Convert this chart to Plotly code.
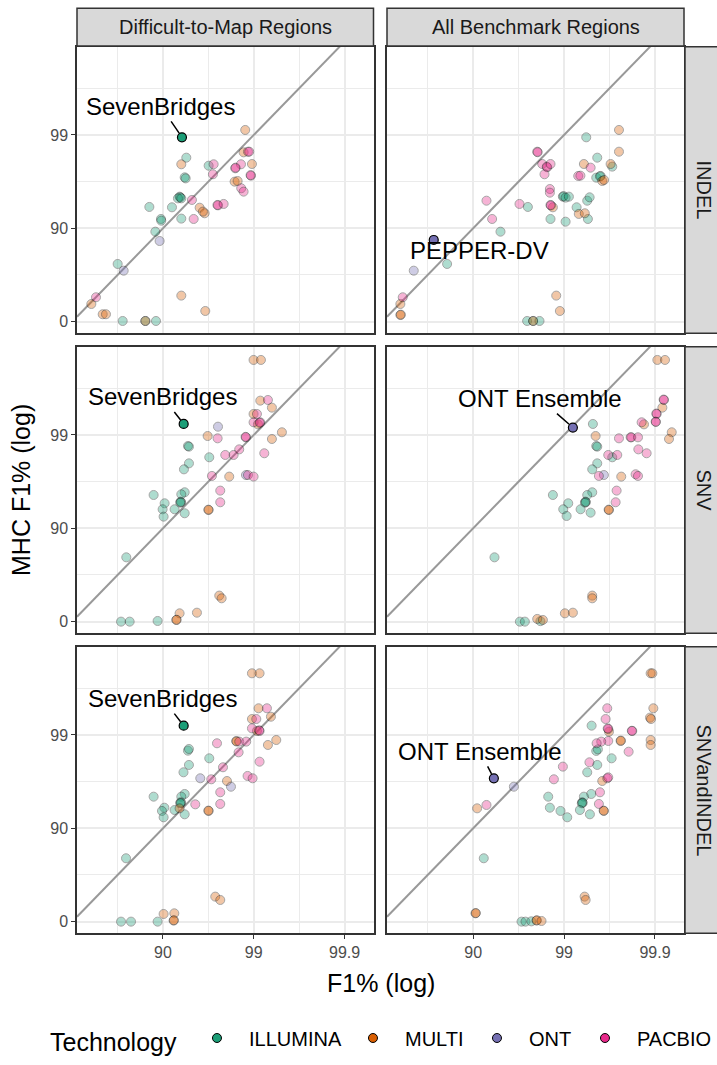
import plotly.graph_objects as go

FONT = "Liberation Sans, Arial, sans-serif"
W, H = 717, 1065

# ---------------- data (values on -log10(1 - F1) scale) ----------------
tech_names = ["ILLUMINA", "MULTI", "ONT", "PACBIO"]
tech_colors = ["#1B9E77", "#D95F02", "#7570B3", "#E7298A"]
tech_codes = {"I": "ILLUMINA", "M": "MULTI", "O": "ONT", "P": "PACBIO"}

region_labels = ["Difficult-to-Map Regions", "All Benchmark Regions"]
variant_labels = ["INDEL", "SNV", "SNVandINDEL"]

x_tick_vals = [1, 2, 3]
y_tick_vals = [0, 1, 2]
minor_tick_vals = [0.5, 1.5, 2.5]

# INDEL / Difficult-to-Map
indel_difficult_x = [1.906, 1.257, 1.202, 1.239, 1.250, 1.503, 1.558, 1.550, 1.888, 1.936, 1.950, 1.980, 1.859, 1.796, 1.800, 1.969, 1.965, 1.789, 1.822, 1.862, 1.888, 1.183, 1.190, 1.165, 1.202, 1.319, 1.404, 1.459, 1.440, 1.606, 1.600, 1.668, 0.850, 1.099, 1.202, 1.338, 0.978, 0.981, 0.916, 0.963, 0.501, 0.567, 0.262, 0.211, 0.336, 0.372, 0.556, 0.806, 0.806, 0.923, 1.202, 1.466]
indel_difficult_y = [2.054, 1.757, 1.686, 1.546, 1.535, 1.671, 1.686, 1.579, 1.814, 1.821, 1.821, 1.689, 1.686, 1.643, 1.650, 1.564, 1.570, 1.500, 1.507, 1.429, 1.393, 1.339, 1.332, 1.321, 1.321, 1.304, 1.221, 1.161, 1.179, 1.246, 1.250, 1.261, 1.229, 1.225, 1.104, 1.100, 1.100, 1.082, 0.964, 0.864, 0.618, 0.546, 0.261, 0.189, 0.079, 0.079, 0.007, 0.007, 0.007, 0.007, 0.279, 0.114]
indel_difficult_tech = list("MIMIIIPPMPPMPPPPPMMPPIIIIPMMMPPPIIIPIIIOIOPMMMIIMIMM")

# INDEL / All Benchmark
indel_all_x = [0.347, 0.714, 0.226, 0.200, 0.200, 0.205, 1.301, 1.209, 1.147, 1.510, 1.602, 1.705, 1.710, 1.760, 1.815, 1.810, 1.851, 1.785, 2.244, 2.604, 2.604, 2.218, 2.292, 2.365, 2.512, 2.530, 2.156, 2.180, 2.354, 2.402, 2.395, 2.420, 2.440, 1.844, 1.844, 1.987, 1.995, 2.017, 2.053, 1.851, 1.855, 1.877, 2.138, 2.255, 2.281, 2.162, 2.228, 2.262, 1.851, 2.017, 1.914, 1.954, 1.594, 1.660, 1.660, 1.730]
indel_all_y = [0.546, 0.618, 0.261, 0.189, 0.071, 0.075, 0.964, 1.100, 1.296, 1.261, 1.229, 1.821, 1.815, 1.689, 1.654, 1.660, 1.689, 1.579, 1.975, 2.054, 1.821, 1.689, 1.650, 1.757, 1.689, 1.661, 1.561, 1.564, 1.543, 1.561, 1.556, 1.507, 1.518, 1.421, 1.382, 1.339, 1.345, 1.329, 1.339, 1.250, 1.245, 1.225, 1.225, 1.296, 1.332, 1.154, 1.161, 1.100, 1.100, 1.071, 0.279, 0.114, 0.007, 0.007, 0.007, 0.007]
indel_all_tech = list("OIPMMMIPPPIPPPPPPPIMMMPIMIPPIIIMMPPIIIIPPMIIIMMIIIMMIIMI")

# SNV / Difficult-to-Map
snv_difficult_x = [1.998, 2.079, 2.072, 2.156, 2.200, 1.998, 2.035, 1.998, 2.046, 2.072, 2.065, 1.606, 1.492, 1.602, 1.914, 1.910, 2.310, 2.200, 2.116, 1.275, 1.286, 1.510, 1.286, 1.231, 1.686, 1.778, 1.840, 1.539, 1.730, 1.914, 1.936, 1.998, 1.631, 1.631, 1.503, 1.500, 0.897, 1.239, 1.202, 1.194, 1.200, 1.190, 1.018, 0.996, 1.007, 1.128, 1.239, 0.596, 1.620, 1.646, 1.183, 1.374, 1.147, 1.150, 0.538, 0.633, 0.941]
snv_difficult_y = [2.804, 2.804, 2.368, 2.375, 2.293, 2.225, 2.225, 2.136, 2.114, 2.136, 2.130, 2.089, 1.989, 1.964, 1.975, 1.980, 2.029, 1.957, 1.804, 1.882, 1.875, 1.761, 1.696, 1.632, 1.786, 1.786, 1.846, 1.561, 1.554, 1.571, 1.571, 1.554, 1.404, 1.279, 1.196, 1.200, 1.357, 1.386, 1.364, 1.286, 1.280, 1.275, 1.268, 1.204, 1.125, 1.204, 1.161, 0.689, 0.279, 0.250, 0.089, 0.096, 0.018, 0.020, 0.000, 0.000, 0.007]
snv_difficult_tech = list("MMMPMMPPMPPOMPPPMMPIIIIIPPPPMOPPPPMMIIIIIIIIIIIIMMMMMMIII")

# SNV / All Benchmark
snv_all_x = [3.026, 3.110, 3.099, 3.095, 3.081, 3.018, 3.015, 3.007, 3.010, 2.853, 2.879, 3.184, 3.154, 2.317, 2.347, 2.604, 2.732, 2.740, 2.813, 2.354, 2.365, 2.817, 2.908, 2.486, 2.530, 2.585, 2.365, 2.310, 2.383, 2.438, 2.629, 2.787, 2.813, 2.578, 2.567, 2.494, 2.490, 1.877, 2.310, 2.255, 2.235, 2.240, 2.230, 2.046, 1.991, 2.028, 2.182, 2.292, 1.235, 2.310, 2.310, 2.009, 2.097, 1.705, 1.767, 1.514, 1.569, 1.740]
snv_all_y = [2.804, 2.804, 2.375, 2.380, 2.293, 2.225, 2.230, 2.143, 2.140, 2.136, 2.114, 2.029, 1.957, 2.118, 1.989, 1.964, 1.975, 1.975, 1.975, 1.882, 1.875, 1.846, 1.804, 1.786, 1.761, 1.786, 1.696, 1.632, 1.561, 1.571, 1.554, 1.579, 1.561, 1.404, 1.279, 1.196, 1.200, 1.357, 1.386, 1.357, 1.286, 1.280, 1.275, 1.268, 1.204, 1.132, 1.204, 1.168, 0.689, 0.279, 0.250, 0.089, 0.096, 0.029, 0.018, 0.000, 0.000, 0.005]
snv_all_tech = list("MMPPMPPPPPMMMIMPPPPIIPPPIPIIPOMPPPPMMIIIIIIIIIIIIMMMMMMIII")

# SNVandINDEL / Difficult-to-Map
both_difficult_x = [1.980, 2.064, 2.053, 2.145, 2.189, 1.980, 2.028, 1.980, 2.035, 2.064, 2.060, 1.595, 1.807, 1.810, 1.840, 1.917, 2.248, 2.156, 2.064, 1.833, 1.275, 1.286, 1.510, 1.286, 1.226, 1.661, 1.411, 1.532, 1.705, 1.749, 1.932, 1.987, 1.631, 1.631, 1.356, 1.503, 1.500, 0.897, 1.239, 1.202, 1.194, 1.200, 1.190, 1.015, 0.989, 1.007, 1.128, 1.239, 1.183, 0.593, 1.576, 1.631, 1.007, 1.125, 1.117, 1.120, 0.538, 0.648, 0.941]
both_difficult_y = [2.661, 2.661, 2.286, 2.286, 2.196, 2.171, 2.171, 2.071, 2.043, 2.043, 2.050, 1.911, 1.936, 1.930, 1.929, 1.929, 1.946, 1.893, 1.714, 1.814, 1.832, 1.850, 1.750, 1.679, 1.600, 1.654, 1.536, 1.525, 1.507, 1.446, 1.561, 1.536, 1.386, 1.261, 1.257, 1.186, 1.190, 1.339, 1.368, 1.339, 1.279, 1.273, 1.268, 1.221, 1.186, 1.118, 1.196, 1.150, 1.214, 0.679, 0.268, 0.232, 0.082, 0.089, 0.011, 0.015, 0.000, 0.000, 0.000]
both_difficult_tech = list("MMMPMMPPMPPPMMPPMMPPIIIIIPOPMOPPPPPMMIIIIIIIIIIIMIMMMMMMIII")

# SNVandINDEL / All Benchmark
both_all_x = [1.448, 1.044, 1.147, 1.117, 1.026, 1.030, 1.532, 1.576, 1.697, 1.700, 1.752, 1.640, 2.226, 2.237, 2.952, 2.971, 2.982, 2.945, 2.956, 2.952, 2.952, 2.475, 2.457, 2.486, 2.480, 2.494, 2.750, 2.745, 2.622, 2.625, 2.486, 2.409, 2.358, 2.303, 2.710, 2.354, 2.372, 2.523, 2.279, 2.365, 2.255, 1.987, 1.888, 2.420, 2.475, 2.486, 2.395, 2.383, 2.438, 2.435, 1.826, 2.299, 2.218, 2.200, 2.205, 2.195, 1.844, 1.961, 2.035, 2.174, 2.284]
both_all_y = [1.446, 1.214, 1.250, 0.679, 0.089, 0.092, 0.000, 0.000, 0.011, 0.015, 0.007, 0.003, 0.268, 0.232, 2.661, 2.661, 2.286, 2.186, 2.171, 1.946, 1.893, 2.286, 2.171, 2.064, 2.070, 2.036, 2.043, 2.045, 1.936, 1.940, 1.936, 1.929, 1.911, 2.100, 1.821, 1.829, 1.846, 1.750, 1.707, 1.679, 1.600, 1.661, 1.525, 1.507, 1.536, 1.546, 1.386, 1.261, 1.186, 1.190, 1.339, 1.368, 1.339, 1.279, 1.273, 1.268, 1.221, 1.186, 1.118, 1.196, 1.150]
both_all_tech = list("OMPIMMIIMMMIMMMMMMMMMPPPPMPPMMPPPIPIIIPIIPPMPPPPMMIIIIIIIIIII")

# highlighted (labelled) submissions: panel index = row*2 + col
label_names = ["SevenBridges", "PEPPER-DV", "SevenBridges", "ONT Ensemble", "SevenBridges", "ONT Ensemble"]
label_panel = [0, 1, 2, 3, 4, 5]
label_x = [1.209, 0.567, 1.228, 2.097, 1.228, 1.228]
label_y = [1.975, 0.875, 2.118, 2.079, 2.100, 1.536]
label_tech = ["ILLUMINA", "ONT", "ILLUMINA", "ONT", "ILLUMINA", "ONT"]

panels = [
    (indel_difficult_x, indel_difficult_y, indel_difficult_tech),
    (indel_all_x, indel_all_y, indel_all_tech),
    (snv_difficult_x, snv_difficult_y, snv_difficult_tech),
    (snv_all_x, snv_all_y, snv_all_tech),
    (both_difficult_x, both_difficult_y, both_difficult_tech),
    (both_all_x, both_all_y, both_all_tech),
]

# ---------------- layout geometry (pixels) ----------------
col_px = [(77, 373.5), (387, 684)]
row_px = [(46.7, 333.3), (346.7, 633.3), (646.7, 933.3)]
x_range = [0.053, 3.319]
y_range = [-0.125, 2.946]

GRID = "#EBEBEB"
DARK = "#333333"
TICK_SIZE = 16
TITLE_SIZE = 25
STRIP_SIZE = 20
LABEL_SIZE = 24
LEGEND_SIZE = 20
legend_entry_widths = [87, 55, 39, 75]


def f1_label(v):
    p = 100 * (1 - 10 ** (-v))
    s = ("%.1f" % p).rstrip("0").rstrip(".")
    return s


color_of = dict(zip(tech_names, tech_colors))

fig = go.Figure()
layout = dict(
    width=W, height=H, margin=dict(l=0, r=0, t=0, b=0, autoexpand=False),
    paper_bgcolor="white", plot_bgcolor="white",
    font=dict(family=FONT, color="black"),
    showlegend=True,
)
shapes = []
annotations = []

for p in range(6):
    r, c = divmod(p, 2)
    sfx = "" if p == 0 else str(p + 1)
    xa, ya = "x" + sfx, "y" + sfx
    x0, x1 = col_px[c]
    y0, y1 = row_px[r]
    bottom = r == 2
    left = c == 0
    layout["xaxis" + sfx] = dict(
        domain=[x0 / W, x1 / W], range=x_range, anchor=ya,
        tickmode="array", tickvals=x_tick_vals,
        ticktext=[f1_label(v) for v in x_tick_vals],
        showticklabels=bottom, ticks="outside" if bottom else "",
        ticklen=4, tickwidth=1.2, tickcolor=DARK,
        tickfont=dict(size=TICK_SIZE, color="#4D4D4D", family=FONT),
        showgrid=True, gridcolor=GRID, gridwidth=2,
        minor=dict(tickvals=minor_tick_vals, showgrid=True, gridcolor=GRID, gridwidth=1.2, ticks=""),
        showline=True, mirror=True, linecolor=DARK, linewidth=1.5,
        zeroline=False, fixedrange=True,
    )
    layout["yaxis" + sfx] = dict(
        domain=[1 - y1 / H, 1 - y0 / H], range=y_range, anchor=xa,
        tickmode="array", tickvals=y_tick_vals,
        ticktext=[f1_label(v) for v in y_tick_vals],
        showticklabels=left, ticks="outside" if left else "",
        ticklen=4, tickwidth=1.2, tickcolor=DARK,
        tickfont=dict(size=TICK_SIZE, color="#4D4D4D", family=FONT),
        showgrid=True, gridcolor=GRID, gridwidth=2,
        minor=dict(tickvals=minor_tick_vals, showgrid=True, gridcolor=GRID, gridwidth=1.2, ticks=""),
        showline=True, mirror=True, linecolor=DARK, linewidth=1.5,
        zeroline=False, fixedrange=True,
    )
    # identity line y = x
    fig.add_trace(go.Scatter(
        x=x_range, y=x_range, xaxis=xa, yaxis=ya, mode="lines",
        line=dict(color="#999999", width=2), showlegend=False, hoverinfo="skip",
    ))
    xs, ys, ts = panels[p]
    for tname, tcol in zip(tech_names, tech_colors):
        px_ = [x for x, t in zip(xs, ts) if tech_codes[t] == tname]
        py_ = [y for y, t in zip(ys, ts) if tech_codes[t] == tname]
        fig.add_trace(go.Scatter(
            x=px_, y=py_, xaxis=xa, yaxis=ya, mode="markers",
            marker=dict(size=9, color=tcol, opacity=0.35,
                        line=dict(color="black", width=1)),
            showlegend=False, name=tname,
        ))

# highlighted points + labels
label_offsets = {0: (-21, -31, True), 1: (46, 11, False), 2: (-21, -27, True),
                 3: (-33, -29, True), 4: (-21, -27, True), 5: (-14, -27, True)}
for name, p, x, y, t in zip(label_names, label_panel, label_x, label_y, label_tech):
    sfx = "" if p == 0 else str(p + 1)
    fig.add_trace(go.Scatter(
        x=[x], y=[y], xaxis="x" + sfx, yaxis="y" + sfx, mode="markers",
        marker=dict(size=9, color=color_of[t], opacity=1,
                    line=dict(color="black", width=1.2)),
        showlegend=False,
    ))
    ax, ay, arrow = label_offsets[p]
    if arrow:
        annotations.append(dict(
            x=x, y=y, xref="x" + sfx, yref="y" + sfx, text=name,
            showarrow=True, ax=ax, ay=ay, arrowhead=0, arrowwidth=1.5,
            arrowcolor="black", standoff=5,
            font=dict(size=LABEL_SIZE, color="black", family=FONT),
        ))
    else:
        annotations.append(dict(
            x=x, y=y, xref="x" + sfx, yref="y" + sfx, text=name,
            showarrow=False, xshift=ax, yshift=-ay,
            xanchor="center", yanchor="middle",
            font=dict(size=LABEL_SIZE, color="black", family=FONT),
        ))

# legend entries
for tname, tcol, ew in zip(tech_names, tech_colors, legend_entry_widths):
    fig.add_trace(go.Scatter(
        x=[None], y=[None], mode="markers", name=tname, legendwidth=ew,
        marker=dict(size=9, color=tcol, line=dict(color="black", width=1)),
        showlegend=True,
    ))

# strips
STRIP = "#D9D9D9"
for c, lab in enumerate(region_labels):
    x0, x1 = col_px[c]
    shapes.append(dict(type="rect", xref="paper", yref="paper",
                       x0=x0 / W, x1=x1 / W, y0=1 - 46 / H, y1=1 - 8.3 / H,
                       fillcolor=STRIP, line=dict(color=DARK, width=1.5), layer="above"))
    annotations.append(dict(x=(x0 + x1) / 2 / W, y=1 - 27 / H, xref="paper", yref="paper",
                            xanchor="center", yanchor="middle",
                            text=lab, showarrow=False,
                            font=dict(size=STRIP_SIZE, color="#1A1A1A", family=FONT)))
for r, lab in enumerate(variant_labels):
    y0, y1 = row_px[r]
    shapes.append(dict(type="rect", xref="paper", yref="paper",
                       x0=685 / W, x1=722 / W, y0=1 - y1 / H, y1=1 - y0 / H,
                       fillcolor=STRIP, line=dict(color=DARK, width=1.5), layer="above"))
    annotations.append(dict(x=703.5 / W, y=1 - (y0 + y1) / 2 / H, xref="paper", yref="paper",
                            xanchor="center", yanchor="middle",
                            text=lab, showarrow=False, textangle=90,
                            font=dict(size=STRIP_SIZE, color="#1A1A1A", family=FONT)))

# axis titles
annotations.append(dict(x=380.5 / W, y=1 - 983 / H, xref="paper", yref="paper",
                        xanchor="center", yanchor="middle",
                        text="F1% (log)", showarrow=False,
                        font=dict(size=TITLE_SIZE, color="black", family=FONT)))
annotations.append(dict(x=21 / W, y=1 - 490 / H, xref="paper", yref="paper",
                        xanchor="center", yanchor="middle",
                        text="MHC F1% (log)", showarrow=False, textangle=-90,
                        font=dict(size=TITLE_SIZE, color="black", family=FONT)))

layout["legend"] = dict(
    orientation="h", x=48 / W, xanchor="left", y=1 - 1040 / H, yanchor="middle",
    title=dict(text="Technology", side="left",
               font=dict(size=TITLE_SIZE, color="black", family=FONT)),
    font=dict(size=LEGEND_SIZE, color="black", family=FONT),
    bgcolor="rgba(0,0,0,0)", entrywidthmode="pixels", itemwidth=54,
)
layout["shapes"] = shapes
layout["annotations"] = annotations
fig.update_layout(**layout)
fig.write_html("out.html", config={"displayModeBar": False},
               post_script="document.body.style.margin='0px';")
